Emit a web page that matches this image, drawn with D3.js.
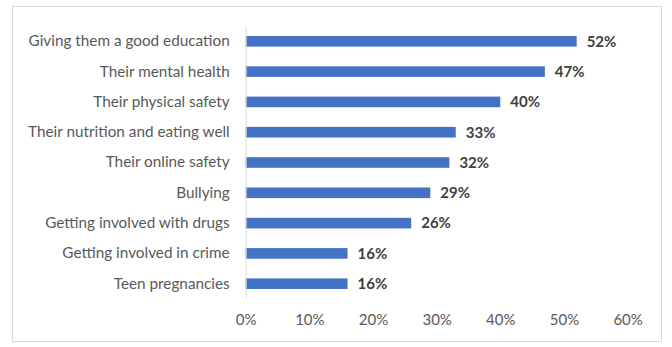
<!DOCTYPE html>
<html>
<head>
<meta charset="utf-8">
<script src="https://cdn.jsdelivr.net/npm/d3@7"></script>
<style>
  body { margin: 0; background: #fff; }
  svg { display: block; font-family: Lato, "Open Sans", sans-serif; }
</style>
</head>
<body>
<div id="chart"></div>
<script>
// categories top to bottom, values in percent
var categories = ["Giving them a good education", "Their mental health", "Their physical safety",
  "Their nutrition and eating well", "Their online safety", "Bullying",
  "Getting involved with drugs", "Getting involved in crime", "Teen pregnancies"]
var values = [52, 47, 40, 33, 32, 29, 26, 16, 16]
var tickValues = [0, 10, 20, 30, 40, 50, 60]

const width = 672, height = 347
const margin = {top: 26, left: 245.7, right: 44.4, bottom: 48}

var svg = d3.select("#chart").append("svg").attr("width", width).attr("height", height)

// chart frame
svg.append("rect").attr("x", 12.5).attr("y", 6.5).attr("width", 649).attr("height", 335)
  .attr("fill", "#fff").attr("stroke", "#d9d9d9").attr("stroke-width", 1)

var x = d3.scaleLinear().domain([0, 60]).range([margin.left, width - margin.right])
var y = d3.scaleBand().domain(categories).range([margin.top, height - margin.bottom]).paddingInner(0.65).paddingOuter(0.33)

// bars
svg.selectAll("rect.bar").data(values).enter().append("rect").attr("class", "bar")
  .attr("x", x(0))
  .attr("y", (d, i) => y(categories[i]))
  .attr("width", d => x(d) - x(0))
  .attr("height", y.bandwidth())
  .attr("fill", "#4472c4")

// value labels
svg.selectAll("text.val").data(values).enter().append("text").attr("class", "val")
  .attr("x", d => x(d) + 10)
  .attr("y", (d, i) => y(categories[i]) + y.bandwidth() / 2)
  .attr("dy", "0.36em")
  .style("font-size", "15px").style("font-weight", "bold").attr("fill", "#404040")
  .text(d => d + "%")

// category axis
var yAxis = svg.append("g").attr("transform", "translate(" + x(0) + ",0)")
  .call(d3.axisLeft(y).tickSize(0).tickPadding(16))
yAxis.select(".domain").attr("stroke", "#d9d9d9")
  .attr("d", "M0.5," + (margin.top + 1) + "V" + (height - margin.bottom))
yAxis.selectAll("text").style("font-size", "15.3px").attr("fill", "#595959").style("font-family", "Lato, sans-serif")

// value axis (labels only)
var xAxis = svg.append("g").attr("transform", "translate(0," + (height - margin.bottom) + ")")
  .call(d3.axisBottom(x).tickValues(tickValues).tickFormat(d => d + "%").tickSize(0).tickPadding(15))
xAxis.select(".domain").remove()
xAxis.selectAll("text").style("font-size", "15px").attr("fill", "#595959").style("font-family", "Lato, sans-serif")
</script>
</body>
</html>
